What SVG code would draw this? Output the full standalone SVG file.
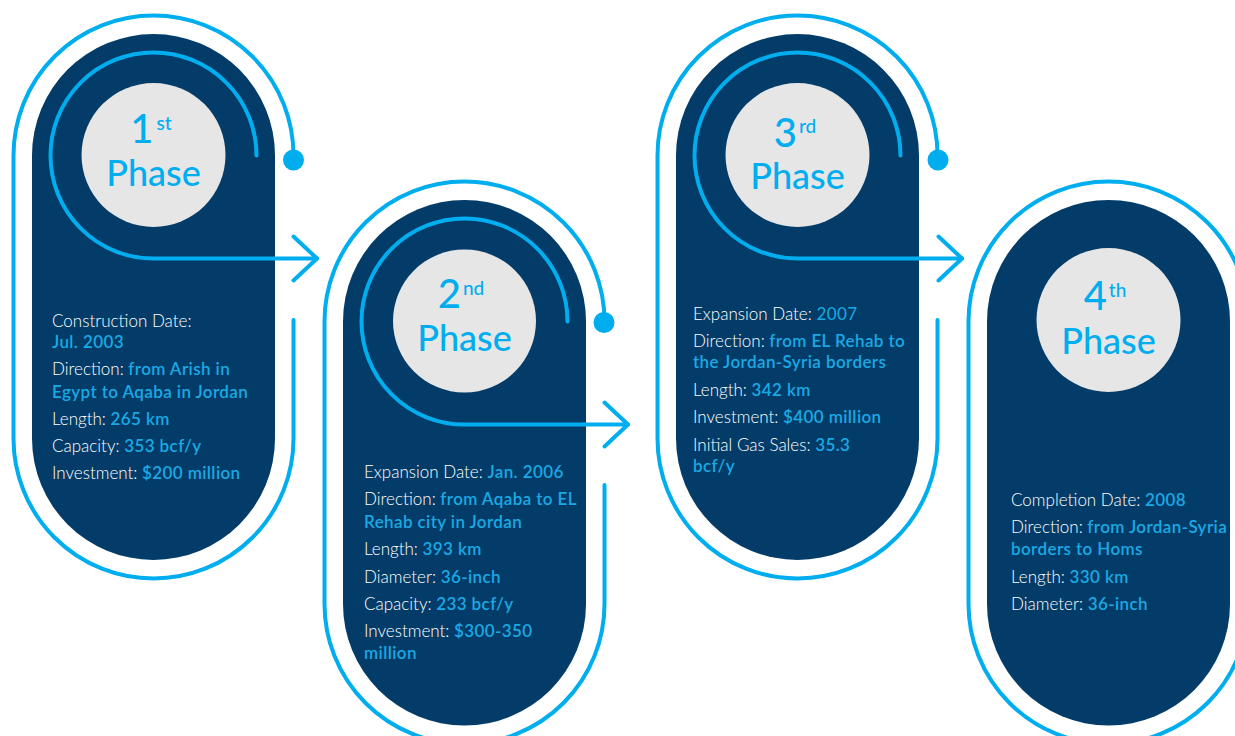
<svg xmlns="http://www.w3.org/2000/svg" width="1235" height="736" viewBox="0 0 1235 736">
<style>
.bg{fill:#ffffff}
.card{fill:#033c68}
.ring{fill:none;stroke:#00aeef;stroke-width:4;stroke-linecap:round}
.dot{fill:#00aeef}
.badge{fill:#e6e6e6}
.conn{fill:none;stroke:#00aeef;stroke-width:4;stroke-linecap:round;stroke-linejoin:round}
.title{font-family:Lato,"Noto Sans",sans-serif;fill:#00aeef;font-weight:500;text-anchor:middle}
.num{font-size:40px}
.sup{font-size:19px}
.ph{font-size:36px}
.info{font-family:Lato,"Noto Sans",sans-serif;font-size:17px;fill:#ffffff;font-weight:300}
.v{fill:#1ba9e4;font-weight:600;letter-spacing:0.4px}
.v4{fill:#1ba9e4;font-weight:400;letter-spacing:0.4px}
</style>
<rect class="bg" x="0" y="0" width="1235" height="736"/>

<g id="phase1">
<path class="ring" d="M293.5,320 L293.5,438.5 A140,140 0 0 1 13.5,438.5 L13.5,155.5 A140,140 0 0 1 293.5,155.5 L293.5,160"/>
<circle class="dot" cx="293.5" cy="160" r="10.5"/>
<path class="card" d="M32,155.5 A121.5,121.5 0 0 1 275,155.5 L275,438.5 A121.5,121.5 0 0 1 32,438.5 Z"/>
<circle class="badge" cx="153.5" cy="155" r="72"/>
<text class="title" x="151" y="143"><tspan class="num">1</tspan><tspan class="sup" dy="-13" dx="3">st</tspan></text>
<text class="title ph" x="153.5" y="186">Phase</text>
<text class="info" x="52" y="327">Construction Date:</text>
<text class="info" x="52" y="348"><tspan class="v">Jul. 2003</tspan></text>
<text class="info" x="52" y="375">Direction: <tspan class="v">from Arish in</tspan></text>
<text class="info" x="52" y="398"><tspan class="v">Egypt to Aqaba in Jordan</tspan></text>
<text class="info" x="52" y="425">Length: <tspan class="v">265 km</tspan></text>
<text class="info" x="52" y="452">Capacity: <tspan class="v">353 bcf/y</tspan></text>
<text class="info" x="52" y="479">Investment: <tspan class="v">$200 million</tspan></text>
</g>

<g id="phase2">
<path class="ring" d="M604.5,485 L604.5,604 A140,140 0 0 1 324.5,604 L324.5,321.5 A140,140 0 0 1 604.5,321.5 L604.5,322.5"/>
<circle class="dot" cx="604" cy="322.5" r="10.5"/>
<path class="card" d="M343,321.5 A121.5,121.5 0 0 1 586,321.5 L586,604 A121.5,121.5 0 0 1 343,604 Z"/>
<circle class="badge" cx="464.5" cy="321" r="71.5"/>
<text class="title" x="461" y="308"><tspan class="num">2</tspan><tspan class="sup" dy="-13" dx="2">nd</tspan></text>
<text class="title ph" x="464.5" y="351">Phase</text>
<text class="info" x="364" y="478">Expansion Date: <tspan class="v">Jan. 2006</tspan></text>
<text class="info" x="364" y="505">Direction: <tspan class="v">from Aqaba to EL</tspan></text>
<text class="info" x="364" y="528"><tspan class="v">Rehab city in Jordan</tspan></text>
<text class="info" x="364" y="555">Length: <tspan class="v">393 km</tspan></text>
<text class="info" x="364" y="583">Diameter: <tspan class="v">36-inch</tspan></text>
<text class="info" x="364" y="610">Capacity: <tspan class="v">233 bcf/y</tspan></text>
<text class="info" x="364" y="637">Investment: <tspan class="v">$300-350</tspan></text>
<text class="info" x="364" y="659"><tspan class="v">million</tspan></text>
</g>

<g id="phase3">
<path class="ring" d="M937.5,320 L937.5,438.5 A140,140 0 0 1 657.5,438.5 L657.5,155.5 A140,140 0 0 1 937.5,155.5 L937.5,160"/>
<circle class="dot" cx="938" cy="160" r="10.5"/>
<path class="card" d="M676,155.5 A121.5,121.5 0 0 1 919,155.5 L919,438.5 A121.5,121.5 0 0 1 676,438.5 Z"/>
<circle class="badge" cx="797.5" cy="155" r="72"/>
<text class="title" x="795" y="147"><tspan class="num">3</tspan><tspan class="sup" dy="-14" dx="2">rd</tspan></text>
<text class="title ph" x="797.5" y="189">Phase</text>
<text class="info" x="693" y="320">Expansion Date: <tspan class="v4">2007</tspan></text>
<text class="info" x="693" y="347">Direction: <tspan class="v">from EL Rehab to</tspan></text>
<text class="info" x="693" y="368"><tspan class="v">the Jordan-Syria borders</tspan></text>
<text class="info" x="693" y="396">Length: <tspan class="v">342 km</tspan></text>
<text class="info" x="693" y="423">Investment: <tspan class="v">$400 million</tspan></text>
<text class="info" x="693" y="451">Initial Gas Sales: <tspan class="v">35.3</tspan></text>
<text class="info" x="693" y="472"><tspan class="v">bcf/y</tspan></text>
</g>

<g id="phase4">
<path class="ring" d="M968.5,321.5 A140,140 0 0 1 1248.5,321.5 L1248.5,604 A140,140 0 0 1 968.5,604 Z"/>
<path class="card" d="M987,321.5 A121.5,121.5 0 0 1 1230,321.5 L1230,604 A121.5,121.5 0 0 1 987,604 Z"/>
<circle class="badge" cx="1108.5" cy="320" r="72"/>
<text class="title" x="1105" y="310"><tspan class="num">4</tspan><tspan class="sup" dy="-13" dx="2">th</tspan></text>
<text class="title ph" x="1108.5" y="354">Phase</text>
<text class="info" x="1011" y="506">Completion Date: <tspan class="v">2008</tspan></text>
<text class="info" x="1011" y="533">Direction: <tspan class="v">from Jordan-Syria</tspan></text>
<text class="info" x="1011" y="555"><tspan class="v">borders to Homs</tspan></text>
<text class="info" x="1011" y="583">Length: <tspan class="v">330 km</tspan></text>
<text class="info" x="1011" y="610">Diameter: <tspan class="v">36-inch</tspan></text>
</g>

<g id="connectors">
<path class="conn" d="M256.5,155.5 A103,103 0 1 0 153.5,258.5 L317,258.5"/>
<path class="conn" d="M293.5,236.5 L317,258.5 L293.5,280.5"/>
<path class="conn" d="M567.5,321.5 A103,103 0 1 0 464.5,424.5 L628,424.5"/>
<path class="conn" d="M604.5,402.5 L628,424.5 L604.5,446.5"/>
<path class="conn" d="M900.5,155.5 A103,103 0 1 0 797.5,258.5 L962,258.5"/>
<path class="conn" d="M938.5,236.5 L962,258.5 L938.5,280.5"/>
</g>
</svg>
